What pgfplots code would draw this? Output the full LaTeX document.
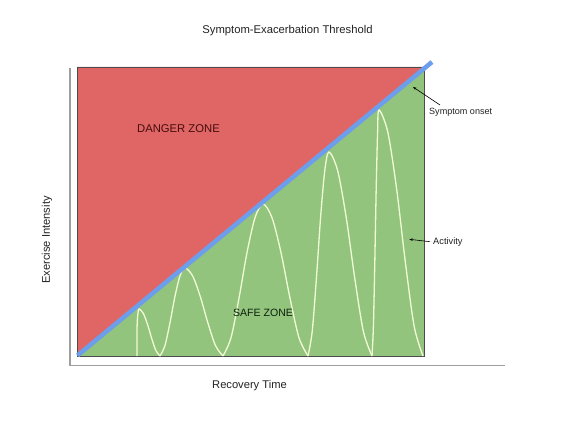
\documentclass[border=0pt]{standalone}
\usepackage{fontspec}
\setmainfont{Liberation Sans}
\usepackage{pgfplots}
\pgfplotsset{compat=1.18}
\usetikzlibrary{arrows.meta}
\definecolor{zred}{HTML}{E06666}
\definecolor{zgreen}{HTML}{93C47D}
\definecolor{zblue}{HTML}{6D9EEB}
\definecolor{act}{RGB}{242,250,214}
\definecolor{axgray}{HTML}{9E9E9E}
\definecolor{txt}{HTML}{222222}
\begin{document}
\begin{tikzpicture}
\useasboundingbox (-70bp,-74.5bp) rectangle (516bp,365.5bp);
\begin{axis}[
  x=1bp, y=1bp,
  xmin=0, xmax=435, ymin=0, ymax=297.5,
  axis lines=left,
  axis line style={-, draw=axgray, line width=1.4bp},
  xtick=\empty, ytick=\empty,
  clip=false,
]
% zones
\addplot[draw=none, fill=zgreen] coordinates {(7,9.5) (354,9.5) (354,298.5) (7,298.5)} -- cycle;
\addplot[draw=none, fill=zred] coordinates {(7,9.5) (7,298.5) (354,298.5)} -- cycle;
\addplot[draw=black!70, line width=0.6bp] coordinates {(7,9.5) (354,9.5) (354,298.5) (7,298.5)} -- cycle;
% activity humps
\addplot[act, line width=1.3bp, smooth, tension=0.5] coordinates {(67,9.5) (67,35) (67.4,46) (68,52.5) (69,56.5) (73.2,52.3) (77.4,41.5) (81.6,27.4) (85.8,15.1) (90,9.5)};
\addplot[act, line width=1.3bp, smooth, tension=0.5] coordinates {(90,9.5) (95,20.1) (100,42.9) (105,69.3) (110,89.6) (115,97.5) (122.6,89.6) (130.2,69.3) (137.8,42.9) (145.4,20.1) (153,9.5)};
\addplot[act, line width=1.3bp, smooth, tension=0.5] coordinates {(153,9.5) (161,27.7) (169,67.3) (177,112.9) (185,147.8) (193,161.5) (202,147.8) (211,112.9) (220,67.3) (229,27.7) (238,9.5)};
\addplot[act, line width=1.3bp, smooth, tension=0.5] coordinates {(238,9.5) (242.2,34.0) (246.4,87.0) (250.6,148.2) (254.8,195.1) (259,213.5) (267.6,195.1) (276.2,148.2) (284.8,87.0) (293.4,34.0) (302,9.5)};
\addplot[act, line width=1.3bp, smooth, tension=0.5] coordinates {(302,9.5) (303.4,39.0) (304.8,103.0) (306.2,176.8) (307.6,233.4) (309,255.5) (317.8,233.4) (326.6,176.8) (335.4,103.0) (344.2,39.0) (353,9.5)};
% threshold line
\addplot[zblue, line width=4.5bp] coordinates {(7.5,10) (362,303.5)};
% texts
\node[txt, font=\fontsize{11.3}{13}\selectfont] at (axis cs:217.5,334.5) {Symptom-Exacerbation Threshold};
\node[txt, font=\fontsize{11.2}{13}\selectfont, rotate=90] at (axis cs:-23,125.5) {Exercise Intensity};
\node[txt, font=\fontsize{11.2}{13}\selectfont] at (axis cs:179.5,-20.5) {Recovery Time};
\node[text={rgb,255:red,70;green,12;blue,12}, font=\fontsize{11.3}{13}\selectfont] at (axis cs:108.5,236.5) {DANGER ZONE};
\node[text={rgb,255:red,12;green,32;blue,12}, font=\fontsize{10.6}{12}\selectfont] at (axis cs:193,52.5) {SAFE ZONE};
\node[txt, anchor=west, inner sep=0pt, font=\fontsize{9.1}{11}\selectfont] at (axis cs:359,253.5) {Symptom onset};
\node[txt, anchor=west, inner sep=0pt, font=\fontsize{9.3}{11}\selectfont] at (axis cs:363,123.5) {Activity};
\draw[-{Stealth[length=3.5bp,width=2.5bp]}, line width=0.6bp, black] (axis cs:370,260.5) -- (axis cs:343,278.5);
\draw[-{Stealth[length=3.5bp,width=2.5bp]}, line width=0.6bp, black] (axis cs:360,123.8) -- (axis cs:339.3,126.2);
\end{axis}
\end{tikzpicture}
\end{document}
